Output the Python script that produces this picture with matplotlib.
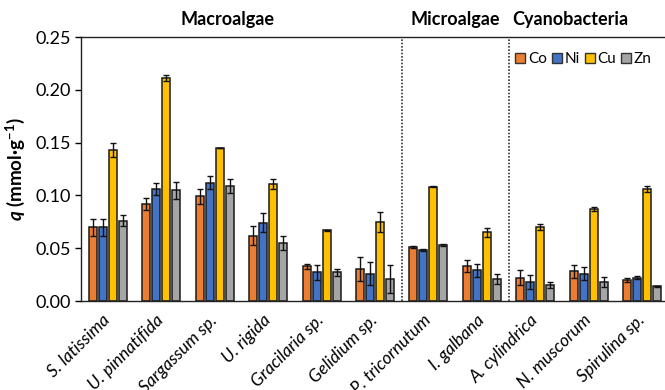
import matplotlib
matplotlib.use("Agg")
import matplotlib.pyplot as plt
from matplotlib.patches import Patch
import numpy as np

plt.rcParams['font.family'] = ['Lato', 'DejaVu Sans']
plt.rcParams['mathtext.fontset'] = 'custom'
plt.rcParams['mathtext.bfit'] = 'Lato:bold:italic'
plt.rcParams['mathtext.bf'] = 'Lato:bold'

species = ["S. latissima", "U. pinnatifida", "Sargassum sp.", "U. rigida", "Gracilaria sp.",
           "Gelidium sp.", "P. tricornutum", "I. galbana", "A. cylindrica", "N. muscorum", "Spirulina sp."]
metals = ["Co", "Ni", "Cu", "Zn"]
colors = ["#ED7D31", "#4472C4", "#FFC000", "#A5A5A5"]

co = [0.070, 0.092, 0.099, 0.062, 0.033, 0.030, 0.051, 0.033, 0.022, 0.028, 0.020]
ni = [0.070, 0.106, 0.112, 0.074, 0.027, 0.026, 0.048, 0.029, 0.018, 0.026, 0.022]
cu = [0.143, 0.211, 0.145, 0.111, 0.067, 0.075, 0.108, 0.065, 0.070, 0.087, 0.106]
zn = [0.076, 0.105, 0.109, 0.055, 0.027, 0.021, 0.053, 0.021, 0.015, 0.018, 0.014]

co_err = [0.008, 0.006, 0.007, 0.009, 0.0025, 0.0115, 0.001, 0.006, 0.007, 0.0063, 0.0019]
ni_err = [0.008, 0.006, 0.006, 0.009, 0.007, 0.0105, 0.001, 0.006, 0.0065, 0.0065, 0.0015]
cu_err = [0.007, 0.003, 0.0003, 0.005, 0.0004, 0.0095, 0.0005, 0.0045, 0.003, 0.0022, 0.003]
zn_err = [0.005, 0.008, 0.007, 0.0065, 0.0035, 0.013, 0.001, 0.0045, 0.003, 0.0047, 0.0005]

groups = ["Macroalgae", "Microalgae", "Cyanobacteria"]
group_pos = [2.25, 6.5, 8.65]
dividers = [5.5, 7.5]

values = [co, ni, cu, zn]
errors = [co_err, ni_err, cu_err, zn_err]

fig = plt.figure(figsize=(6.65, 3.9), dpi=100)
ax = fig.add_axes([81/665, 1-301/390, 588/665, 264/390])

x = np.arange(len(species))
width = 0.15
offsets = [-0.281, -0.0936, 0.0936, 0.281]
for vals, errs, col, off, m in zip(values, errors, colors, offsets, metals):
    ax.bar(x + off, vals, width, color=col, edgecolor="#1a1a1a", linewidth=1.1,
           yerr=errs, capsize=2.5, error_kw=dict(elinewidth=1.0, capthick=1.0, ecolor="#111111"),
           label=m, zorder=2)

for d in dividers:
    ax.axvline(d, color="#333333", linestyle=(0, (1, 1)), linewidth=1.2, zorder=1)

ax.set_xlim(-0.5, 10.5)
ax.set_ylim(0, 0.25)
ax.set_yticks([0, 0.05, 0.10, 0.15, 0.20, 0.25])
ax.set_yticklabels(["0.00", "0.05", "0.10", "0.15", "0.20", "0.25"], fontsize=13)
ax.tick_params(axis='y', length=4, width=1, pad=3)
ax.set_xticks(x)
ax.set_xticklabels(species, rotation=45, ha='right', va='center', rotation_mode='anchor',
                   fontsize=12.5, fontstyle='italic')
ax.tick_params(axis='x', length=0, pad=12)
for s in ax.spines.values():
    s.set_linewidth(1.0)
    s.set_color("#222222")
ax.spines['right'].set_visible(False)

ax.set_ylabel(r"$\boldsymbol{q}$ (mmol·g$^{\mathbf{-1}}$)", fontsize=13.5, fontweight='bold', labelpad=6)

for g, p in zip(groups, group_pos):
    ax.text(p, 1.035, g, transform=ax.get_xaxis_transform(), ha='center', va='bottom',
            fontsize=13, fontweight='bold')

handles = [Patch(facecolor=c, edgecolor="#333333", linewidth=1.0) for c in colors]
ax.legend(handles, metals, loc='upper right', bbox_to_anchor=(665/588 - 81/588 - 0.012, 0.965),
          ncol=4, frameon=False, fontsize=11, handlelength=0.65, handleheight=0.65,
          handletextpad=0.2, columnspacing=0.3, borderaxespad=0)

fig.savefig("out.png", dpi=100)
